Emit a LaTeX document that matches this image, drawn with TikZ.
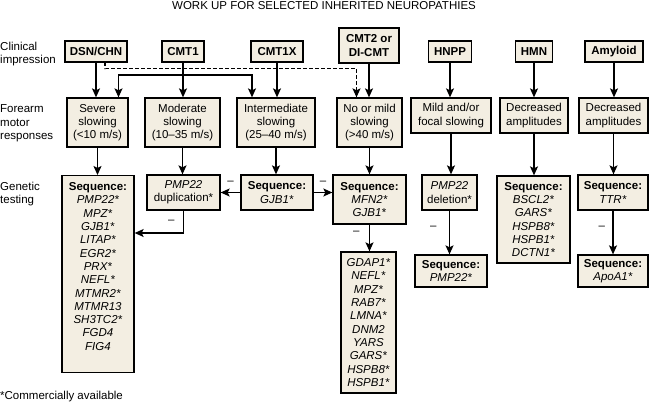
\documentclass[tikz,border=0pt]{standalone}
\usepackage{fontspec}
\setmainfont{Liberation Sans}
\usepackage{tikz}
\usetikzlibrary{arrows.meta}

\definecolor{boxfill}{RGB}{243,238,226}
\newcommand{\figfont}{\fontsize{11.5}{13.3}\selectfont}

\begin{document}
\begin{tikzpicture}[x=1pt, y=-1pt, font=\figfont,
  box/.style={draw, fill=boxfill, line width=1.3pt, align=center, inner sep=2pt},
  head/.style={box, minimum height=21, font=\figfont\bfseries},
  arr/.style={-{Stealth[length=9pt,width=8pt,inset=2pt]}, line width=1.2pt},
  rowlabel/.style={anchor=west, align=left, inner sep=0pt}]

  % Parameters
  \def\hmotor{49}      % three-line motor boxes
  \def\hshort{35}      % two-line boxes

  \useasboundingbox (0,0) rectangle (650,405);

  \node (title) at (324,6) {WORK UP FOR SELECTED INHERITED NEUROPATHIES};

  % Row labels
  \node[rowlabel] (lclin) at (0,54) {Clinical\\impression};
  \node[rowlabel] (lmotor) at (0,123.5) {Forearm\\motor\\responses};
  \node[rowlabel] (lgen) at (0,194) {Genetic\\testing};

  % Clinical impression
  \node[head, minimum width=62] (dsn) at (96,51.5) {DSN/CHN};
  \node[head, minimum width=42] (cmt1) at (183,51.5) {CMT1};
  \node[head, minimum width=52] (cmt1x) at (277,51.5) {CMT1X};
  \node[head, minimum width=60, minimum height=35] (cmt2) at (369,45.5) {CMT2 or\\DI-CMT};
  \node[head, minimum width=43] (hnpp) at (450,51.5) {HNPP};
  \node[head, minimum width=37] (hmn) at (534,51.5) {HMN};
  \node[head, minimum width=58] (amyl) at (614,51.5) {Amyloid};

  % Forearm motor responses
  \node[box, minimum width=61, minimum height=\hmotor] (severe) at (97.5,122.5) {Severe\\slowing\\(<10 m/s)};
  \node[box, minimum width=75, minimum height=\hmotor] (moder) at (182.5,122.5) {Moderate\\slowing\\(10\textendash35 m/s)};
  \node[box, minimum width=78, minimum height=\hmotor] (inter) at (276,122.5) {Intermediate\\slowing\\(25\textendash40 m/s)};
  \node[box, minimum width=65, minimum height=\hmotor] (nomild) at (369.5,122.5) {No or mild\\slowing\\(>40 m/s)};
  \node[box, minimum width=80, minimum height=\hshort] (mild) at (451,115.5) {Mild and/or\\focal slowing};
  \node[box, minimum width=68, minimum height=\hshort] (decr1) at (534,115.5) {Decreased\\amplitudes};
  \node[box, minimum width=69, minimum height=\hshort] (decr2) at (613.5,115.5) {Decreased\\amplitudes};

  % Genetic testing
  \node[box, minimum width=72, inner ysep=7pt, anchor=north] (seqL) at (98,175)
    {\parbox[c][183pt][t]{66pt}{\centering\textbf{Sequence:}\\\textit{PMP22*}\\\textit{MPZ*}\\\textit{GJB1*}\\
     \textit{LITAP*}\\\textit{EGR2*}\\\textit{PRX*}\\\textit{NEFL*}\\\textit{MTMR2*}\\\textit{MTMR13}\\
     \textit{SH3TC2*}\\\textit{FGD4}\\\textit{FIG4}}};
  \node[box, minimum width=73, minimum height=\hshort] (dup) at (183.5,192.5) {\textit{PMP22}\\duplication*};
  \node[box, minimum width=72, minimum height=\hshort] (gjb) at (277,192.5) {\textbf{Sequence:}\\\textit{GJB1*}};
  \node[box, minimum width=73, minimum height=49] (mfn) at (369.5,199.5) {\textbf{Sequence:}\\\textit{MFN2*}\\\textit{GJB1*}};
  \node[box, minimum width=55, minimum height=\hshort] (del) at (449.5,192.5) {\textit{PMP22}\\deletion*};
  \node[box, minimum width=73, minimum height=87] (bscl) at (533.5,219.5)
    {\textbf{Sequence:}\\\textit{BSCL2*}\\\textit{GARS*}\\\textit{HSPB8*}\\\textit{HSPB1*}\\\textit{DCTN1*}};
  \node[box, minimum width=70, minimum height=\hshort] (ttr) at (613,192.5) {\textbf{Sequence:}\\\textit{TTR*}};

  % Second line of testing
  \node[box, minimum width=55, minimum height=141] (gdap) at (368.5,322.5)
    {\textit{GDAP1*}\\\textit{NEFL*}\\\textit{MPZ*}\\\textit{RAB7*}\\\textit{LMNA*}\\\textit{DNM2}\\
     \textit{YARS}\\\textit{GARS*}\\\textit{HSPB8*}\\\textit{HSPB1*}};
  \node[box, minimum width=72, minimum height=32] (seqP) at (451,271) {\textbf{Sequence:}\\\textit{PMP22*}};
  \node[box, minimum width=70, minimum height=32] (apo) at (613,271) {\textbf{Sequence:}\\\textit{ApoA1*}};

  \node[anchor=west, inner sep=0pt] (foot) at (0,397) {*Commercially available};

  % Clinical impression -> motor responses
  \draw[arr] (dsn.south) -- (dsn.south |- severe.north);
  \draw[arr] (cmt1.south) -- (cmt1.south |- moder.north);
  \draw[arr] (cmt1x.south) -- (cmt1x.south |- inter.north);
  \draw[arr] (cmt2.south) -- (cmt2.south |- nomild.north);
  \draw[arr] (hnpp.south) -- (hnpp.south |- mild.north);
  \draw[arr] (hmn.south) -- (hmn.south |- decr1.north);
  \draw[arr] (amyl.south) -- (amyl.south |- decr2.north);

  % CMT1 branch
  \coordinate (split) at (183,75);
  \draw[arr] (split) -| ([xshift=21pt]severe.north);
  \draw[arr] (split) -| ([xshift=-24pt]inter.north);

  % DSN/CHN dashed link
  \draw[arr, dash pattern=on 3.5pt off 2.5pt] ([xshift=9pt]dsn.south) -- ++(0,6) -| ([xshift=-13pt]nomild.north);

  % Motor responses -> genetic testing
  \draw[arr] (severe.south) -- (severe.south |- seqL.north);
  \draw[arr] (moder.south) -- (moder.south |- dup.north);
  \draw[arr] (inter.south) -- (inter.south |- gjb.north);
  \draw[arr] (nomild.south) -- (nomild.south |- mfn.north);
  \draw[arr] (mild.south) -- (mild.south |- del.north);
  \draw[arr] (decr1.south) -- (decr1.south |- bscl.north);
  \draw[arr] (decr2.south) -- (decr2.south |- ttr.north);

  % Negative results
  \draw[arr] (gjb.west) -- (dup.east) node[midway, above=4pt] (neg1) {\textendash};
  \draw[arr] (gjb.east) -- (gjb.east -| mfn.west) node[midway, above=4pt] (neg2) {\textendash};
  \coordinate (dupbend) at (183.5,233);
  \draw[arr] (dup.south) -- (dupbend) node[midway, left=5pt] (neg3) {\textendash} -- (dupbend -| seqL.east);
  \draw[arr] (mfn.south) -- (mfn.south |- gdap.north) node[pos=0.32, left=6pt] (neg4) {\textendash};
  \draw[arr] (del.south) -- (del.south |- seqP.north) node[pos=0.4, left=9pt] (neg5) {\textendash};
  \draw[arr] (ttr.south) -- (ttr.south |- apo.north) node[pos=0.4, left=4pt] (neg6) {\textendash};
\end{tikzpicture}
\end{document}
